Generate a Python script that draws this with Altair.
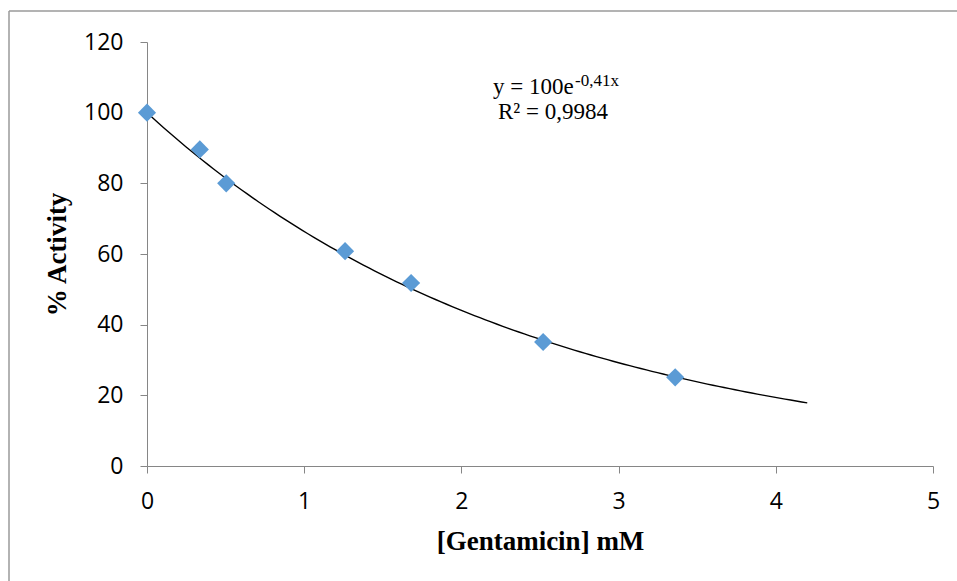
import altair as alt
import numpy as np
import pandas as pd

# Gentamicin concentration (mM) and remaining enzyme activity (%)
conc_mM = [0.0, 0.336, 0.504, 1.26, 1.68, 2.52, 3.36]
activity_pct = [100.0, 89.6, 80.0, 60.8, 51.8, 35.1, 25.1]

# Exponential trendline: y = A * exp(k * x)
fit_A = 100.0
fit_k = -0.41
fit_r2 = "0,9984"
fit_x_max = 4.2

x_ticks = [0, 1, 2, 3, 4, 5]
y_ticks = [0, 20, 40, 60, 80, 100, 120]

points = pd.DataFrame({"conc": conc_mM, "activity": activity_pct})
xs = np.linspace(0, fit_x_max, 120)
curve = pd.DataFrame({"conc": xs, "activity": fit_A * np.exp(fit_k * xs)})

W, H = 786, 424
PAD = {"left": 147, "top": 42, "right": 24, "bottom": 115}

axis_color = "#868686"
tick_font = "Open Sans"
serif = "Liberation Serif"

x_scale = alt.Scale(domain=[0, 5], nice=False)
y_scale = alt.Scale(domain=[0, 120], nice=False)

x_enc = alt.X(
    "conc:Q",
    scale=x_scale,
    title="[Gentamicin] mM",
    axis=alt.Axis(
        values=x_ticks,
        format="d",
        grid=False,
        labelFlush=False,
        domainColor=axis_color,
        tickColor=axis_color,
        tickSize=7,
        labelFont=tick_font,
        labelFontSize=23,
        labelColor="#000000",
        labelPadding=17,
        titleFont=serif,
        titleFontSize=27,
        titleFontWeight="bold",
        titleColor="#000000",
        titlePadding=15,
    ),
)
y_enc = alt.Y(
    "activity:Q",
    scale=y_scale,
    title="% Activity",
    axis=alt.Axis(
        values=y_ticks,
        format="d",
        grid=False,
        labelFlush=False,
        domainColor=axis_color,
        tickColor=axis_color,
        tickSize=7,
        labelFont=tick_font,
        labelFontSize=23,
        labelColor="#000000",
        labelPadding=17,
        titleFont=serif,
        titleFontSize=27,
        titleFontWeight="bold",
        titleColor="#000000",
        titlePadding=12,
    ),
)

trend = alt.Chart(curve).mark_line(color="#000000", strokeWidth=1.4).encode(
    x=x_enc, y=y_enc
)

markers = alt.Chart(points).mark_point(
    shape="diamond", filled=True, size=330, color="#5B9BD5", opacity=1
).encode(x="conc:Q", y="activity:Q")

one = pd.DataFrame({"k": [0]})

eq_main = alt.Chart(one).mark_text(
    text=f"y = {fit_A:.0f}e", font=serif, fontSize=23, align="left",
    baseline="alphabetic", color="#000000"
).encode(x=alt.value(346), y=alt.value(52))

eq_exp = alt.Chart(one).mark_text(
    text=f"{fit_k:.2f}x".replace(".", ","), font=serif, fontSize=17, align="left",
    baseline="alphabetic", color="#000000"
).encode(x=alt.value(428), y=alt.value(44))

eq_r2 = alt.Chart(one).mark_text(
    text=f"R² = {fit_r2}", font=serif, fontSize=23, align="left",
    baseline="alphabetic", color="#000000"
).encode(x=alt.value(351), y=alt.value(77))

# outer frame of the chart
frame_left = alt.Chart(one).mark_rule(color="#9a9a9a", strokeWidth=1.5).encode(
    x=alt.value(9 - PAD["left"]), y=alt.value(11 - PAD["top"]), y2=alt.value(600)
)
frame_top = alt.Chart(one).mark_rule(color="#9a9a9a", strokeWidth=1.5).encode(
    x=alt.value(9 - PAD["left"]), x2=alt.value(900), y=alt.value(11 - PAD["top"])
)

chart = (
    alt.layer(trend, markers, eq_main, eq_exp, eq_r2, frame_left, frame_top)
    .properties(width=W, height=H, padding=PAD, autosize=alt.AutoSizeParams(type="none"),
                background="#ffffff")
    .configure_view(stroke=None)
)

chart.save("out.html", embed_options={"renderer": "svg", "actions": False})
